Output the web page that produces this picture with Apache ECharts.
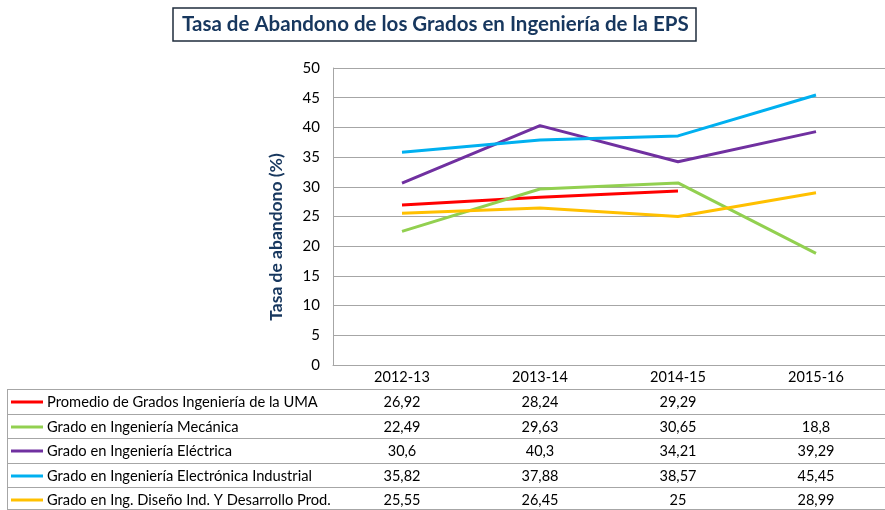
<!DOCTYPE html>
<html>
<head>
<meta charset="utf-8">
<script src="https://cdn.jsdelivr.net/npm/echarts@6/dist/echarts.min.js"></script>
<style>
  html, body { margin: 0; padding: 0; background: #fff; }
  #chart { width: 885px; height: 510px; }
</style>
</head>
<body>
<div id="chart"></div>
<script>
// datos de la tabla
const cursos = ["2012-13", "2013-14", "2014-15", "2015-16"];
const nombres = [
  "Promedio de Grados Ingeniería de la UMA",
  "Grado en Ingeniería Mecánica",
  "Grado en Ingeniería Eléctrica",
  "Grado en Ingeniería Electrónica Industrial",
  "Grado en Ing. Diseño Ind. Y Desarrollo Prod."
];
const promedioUMA = [26.92, 28.24, 29.29, null];
const mecanica = [22.49, 29.63, 30.65, 18.8];
const electrica = [30.6, 40.3, 34.21, 39.29];
const electronica = [35.82, 37.88, 38.57, 45.45];
const diseno = [25.55, 26.45, 25, 28.99];
const colores = ["#FF0000", "#92D050", "#7030A0", "#00B0F0", "#FFC000"];

const valores = [promedioUMA, mecanica, electrica, electronica, diseno];
const FONT = "Lato";
const gris = "#A6A6A6";

let myChart = echarts.init(document.getElementById("chart"));

const option = {
  animation: false,
  backgroundColor: "#fff",
  title: {
    text: "Tasa de Abandono de los Grados en Ingeniería de la EPS",
    left: 173,
    top: 8,
    padding: [6, 8, 6, 9],
    borderColor: "#1F2D3D",
    borderWidth: 1.5,
    textStyle: { fontFamily: FONT, fontSize: 20.5, fontWeight: "bold", color: "#17375E" }
  },
  grid: { left: 333, top: 68, width: 564, height: 297 },
  xAxis: {
    type: "category",
    data: cursos,
    boundaryGap: true,
    axisLine: { lineStyle: { color: gris } },
    axisTick: { length: 145, lineStyle: { color: gris } },
    axisLabel: { margin: 5, fontFamily: FONT, fontSize: 14.5, color: "#000" }
  },
  yAxis: {
    type: "value",
    min: 0,
    max: 50,
    interval: 5,
    axisLine: { show: true, lineStyle: { color: gris } },
    axisTick: { show: false },
    splitLine: { lineStyle: { color: gris } },
    axisLabel: { margin: 13, fontFamily: FONT, fontSize: 15, color: "#000" }
  },
  series: nombres.map((n, i) => ({
    name: n,
    type: "line",
    data: valores[i],
    symbol: "none",
    lineStyle: { width: 3, color: colores[i] },
    itemStyle: { color: colores[i] }
  }))
};
myChart.setOption(option);

// tabla de datos debajo del grafico
const filas = [389, 414, 438, 463, 487];
const altoFila = 24;
const graficos = [];

// titulo eje Y
graficos.push({
  type: "text",
  x: 276, y: 237, rotation: Math.PI / 2,
  style: {
    text: "Tasa de abandono (%)", fontFamily: FONT, fontSize: 17.5, fontWeight: "bold",
    fill: "#17375E", align: "center", verticalAlign: "middle"
  }
});

filas.concat([509]).forEach(y => {
  graficos.push({ type: "line", shape: { x1: 7, y1: y + 0.5, x2: 885, y2: y + 0.5 }, style: { stroke: gris, lineWidth: 1 } });
});
graficos.push({ type: "line", shape: { x1: 7.5, y1: 389, x2: 7.5, y2: 510 }, style: { stroke: gris, lineWidth: 1 } });

nombres.forEach((n, i) => {
  const yc = filas[i] + altoFila / 2 + 1;
  graficos.push({ type: "line", shape: { x1: 11, y1: yc, x2: 43, y2: yc }, style: { stroke: colores[i], lineWidth: 3 } });
  graficos.push({
    type: "text", x: 47, y: yc,
    style: { text: n, fontFamily: FONT, fontSize: 14.7, fill: "#000", verticalAlign: "middle" }
  });
  valores[i].forEach((v, j) => {
    if (v == null) return;
    const xc = myChart.convertToPixel({ xAxisIndex: 0 }, cursos[j]);
    graficos.push({
      type: "text", x: xc, y: yc,
      style: { text: String(v).replace(".", ","), fontFamily: FONT, fontSize: 14.5, fill: "#000", align: "center", verticalAlign: "middle" }
    });
  });
});

myChart.setOption({ graphic: graficos });
</script>
</body>
</html>
